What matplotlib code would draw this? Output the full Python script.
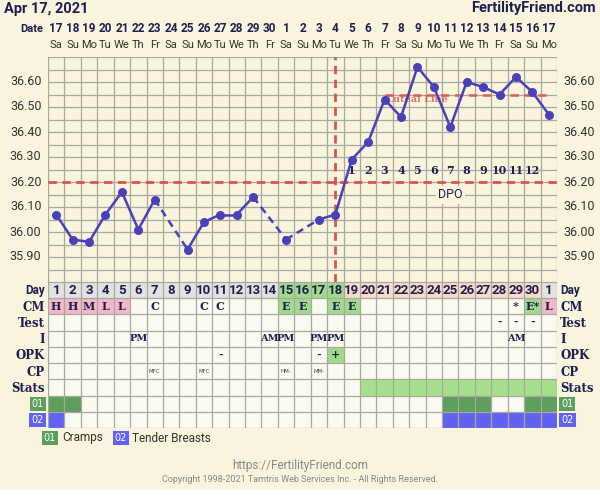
import matplotlib
matplotlib.use("Agg")
import matplotlib.pyplot as plt
import numpy as np

dates = [17,18,19,20,21,22,23,24,25,26,27,28,29,30,1,2,3,4,5,6,7,8,9,10,11,12,13,14,15,16,17]
weekdays = ["Sa","Su","Mo","Tu","We","Th","Fr"]*5
weekdays = weekdays[:31]
temps = [36.07,35.97,35.96,36.07,36.16,36.01,36.13,None,35.93,36.04,36.07,36.07,36.14,None,35.97,None,
         36.05,36.07,36.29,36.36,36.53,36.46,36.66,36.58,36.42,36.60,36.58,36.55,36.62,36.56,36.47]
cycle_days = list(range(1,31)) + [1]
cm = ["H","H","M","L","L","","C","","","C","C","","","","E","E","","E","E","","","","","","","","","","*","E*","L"]
test = [""]*27 + ["-","-","-",""]
intercourse = [""]*31
for i,v in [(5,"PM"),(13,"AM"),(14,"PM"),(16,"PM"),(17,"PM"),(28,"AM")]:
    intercourse[i] = v
opk = [""]*31
opk[10] = "-"; opk[16] = "-"; opk[17] = "+"
cp = [""]*31
cp[6] = "MFC"; cp[9] = "MFC"; cp[14] = "HM-"; cp[16] = "MM-"
stats = [0]*19 + [1]*12
sym01 = [1,1] + [0]*22 + [1,1,1,0,0,1,1]
sym02 = [1] + [0]*23 + [1]*7
coverline = 36.20
luteal = 36.55
ovulation_idx = 17
dpo_labels = list(range(1,13))

BG = "#f8f4de"
GRID = "#a8a8a0"
LINE = "#4a40b8"
RED = "#d9534f"
NAVY = "#1e1e50"

W, H = 600, 500
fig = plt.figure(figsize=(6,5), dpi=100)
fig.patch.set_facecolor(BG)
x0, x1 = 48, 557
def ax_at(l, t, r, b):
    return fig.add_axes([l/W, 1-b/H, (r-l)/W, (b-t)/H])

ax = ax_at(x0, 57, x1, 282)
ax.set_facecolor(BG)
ax.set_xlim(0, 31); ax.set_ylim(35.80, 36.70)
for x in range(32):
    ax.axvline(x, color=GRID, lw=0.9, zorder=1)
for y in np.arange(35.80, 36.701, 0.05):
    ax.axhline(y, color=GRID, lw=0.9, zorder=1)
ax.set_xticks([]); ax.set_yticks([])
for s in ax.spines.values(): s.set_visible(False)
for y in np.arange(35.90, 36.61, 0.10):
    ax.text(-0.4, y, f"{y:.2f}", ha="right", va="center", fontsize=9, color="#333", family="Roboto")
    ax.text(31.4, y, f"{y:.2f}", ha="left", va="center", fontsize=9, color="#333", family="Roboto")
ax.axhline(coverline, color=RED, lw=2, ls=(0,(3,2)), zorder=2)
ax.axvline(ovulation_idx+0.5, color=RED, lw=2, ls=(0,(3,2)), zorder=2)
ax.plot([20.5, 30.5], [luteal, luteal], color=RED, lw=2, ls=(0,(3,2)), alpha=0.8, zorder=2)
ax.text(20.6, 36.52, "Luteal Line", color=RED, fontsize=7, family="DejaVu Serif", fontweight="bold", alpha=0.8, zorder=2)
pts = [(i+0.5, t) for i,t in enumerate(temps) if t is not None]
idxs = [i for i,t in enumerate(temps) if t is not None]
for k in range(len(pts)-1):
    dashed = idxs[k+1]-idxs[k] > 1
    ax.plot([pts[k][0], pts[k+1][0]], [pts[k][1], pts[k+1][1]], color=LINE, lw=1.8,
            ls=(0,(3,2)) if dashed else "-", zorder=3)
ax.scatter([p[0] for p in pts], [p[1] for p in pts], s=30, color=LINE, zorder=4)
for k, d in enumerate(dpo_labels):
    ax.text(18.5+k, 36.245, str(d), ha="center", va="center", fontsize=8, fontweight="bold",
            family="DejaVu Serif", color=NAVY, zorder=5)
ax.text(24.5, 36.148, "DPO", ha="center", va="center", fontsize=9, color=NAVY, family="Roboto",
        bbox=dict(facecolor=BG, edgecolor="none", pad=1.5), zorder=5)

fig.text(4/W, 1-9/H, "Apr 17, 2021", fontsize=10.5, fontweight="bold", color=NAVY, va="center", family="Roboto")
fig.text(596/W, 1-8/H, "FertilityFriend.com", fontsize=10.5, fontweight="bold", color=NAVY, va="center", ha="right", family="Roboto")
hx = ax_at(x0, 20, x1, 57)
hx.set_xlim(0,31); hx.set_ylim(0,1); hx.axis("off")
for i,(d,w) in enumerate(zip(dates, weekdays)):
    hx.text(i+0.5, 0.78, str(d), ha="center", va="center", fontsize=8.5, fontweight="bold", color=NAVY, family="Roboto")
    hx.text(i+0.5, 0.33, w, ha="center", va="center", fontsize=8, color="#333", family="Roboto")
hx.text(-0.3, 0.76, "Date", ha="right", va="center", fontsize=8, fontweight="bold", color=NAVY, family="Roboto")

rows = ["Day","CM","Test","I","OPK","CP","Stats","01","02"]
tx = ax_at(x0, 282, x1, 428)
tx.set_xlim(0,31); tx.set_ylim(len(rows), 0); tx.axis("off")
def cell(i, r, c):
    tx.add_patch(plt.Rectangle((i, r), 1, 1, facecolor=c, edgecolor="none", zorder=1))
for i in range(31):
    for r in range(len(rows)):
        cell(i, r, "#fbfaf0")
    dc = "#e2e2e2" if i < 14 or i == 30 else ("#a0da8c" if i < 18 else "#f7dccb")
    cell(i, 0, dc)
    if cm[i] in ("H","M","L"): cell(i, 1, "#f2b8c8")
    if cm[i] in ("E","E*"): cell(i, 1, "#a0da8c")
    if opk[i] == "+": cell(i, 4, "#a0da8c")
    if stats[i]: cell(i, 6, "#a6e08c")
    if sym01[i]: cell(i, 7, "#5e9e5e")
    if sym02[i]: cell(i, 8, "#6262f2")
for x in range(32):
    tx.plot([x,x],[0,len(rows)], color=GRID, lw=0.9, zorder=2)
for y in range(len(rows)+1):
    tx.plot([0,31],[y,y], color=GRID, lw=0.9, zorder=2)
ser = dict(family="DejaVu Serif", fontweight="bold", color=NAVY, zorder=3)
for i in range(31):
    tx.text(i+0.5, 0.52, str(cycle_days[i]), ha="center", va="center", fontsize=9.5, fontweight="bold", color=NAVY, family="Roboto", zorder=3)
    if cm[i]: tx.text(i+0.5, 1.52, cm[i], ha="center", va="center", fontsize=8, **ser)
    if test[i]: tx.text(i+0.5, 2.5, test[i], ha="center", va="center", fontsize=8, **ser)
    if intercourse[i]: tx.text(i+0.5, 3.5, intercourse[i], ha="center", va="center", fontsize=7, **ser)
    if opk[i]: tx.text(i+0.5, 4.5, opk[i], ha="center", va="center", fontsize=8, **ser)
    if cp[i]: tx.text(i+0.5, 5.5, cp[i], ha="center", va="center", fontsize=4, color="#444", zorder=3)
for r, name in enumerate(rows):
    if name in ("01","02"):
        c = "#5e9e5e" if name == "01" else "#6262f2"
        for xx, ha in [(-0.25, "right"), (31.25, "left")]:
            tx.text(xx, r+0.5, name, ha=ha, va="center", fontsize=7, color="white",
                    bbox=dict(facecolor=c, edgecolor="none", pad=1.5), zorder=3)
    else:
        kw = dict(fontweight="bold", color=NAVY, family="Roboto") if name == "Day" else ser
        tx.text(-0.2, r+0.55, name, ha="right", va="center", fontsize=8.5, **kw)
        tx.text(31.2, r+0.55, name, ha="left", va="center", fontsize=8.5, **kw)

fig.text(50/W, 1-438/H, "01", fontsize=7, color="white", va="center", ha="center",
         bbox=dict(facecolor="#5e9e5e", edgecolor="none", pad=1.5))
fig.text(62/W, 1-438/H, "Cramps", fontsize=8.5, color="#333", va="center", family="Roboto")
fig.text(121/W, 1-438/H, "02", fontsize=7, color="white", va="center", ha="center",
         bbox=dict(facecolor="#6262f2", edgecolor="none", pad=1.5))
fig.text(132/W, 1-438/H, "Tender Breasts", fontsize=8.5, color="#333", va="center", family="Roboto")
fig.text(300/W, 1-466/H, "https://FertilityFriend.com", fontsize=8.5, color="#888", ha="center", va="center", family="Roboto")
fig.text(300/W, 1-480/H, "Copyright 1998-2021 Tamtris Web Services Inc. - All Rights Reserved.", fontsize=6.5, color="#888", ha="center", va="center", family="Roboto")
fig.add_artist(plt.Rectangle((0,0), 1, 1-490/H, transform=fig.transFigure, facecolor="white", edgecolor="none"))

fig.savefig("out.png", dpi=100, facecolor=BG)
